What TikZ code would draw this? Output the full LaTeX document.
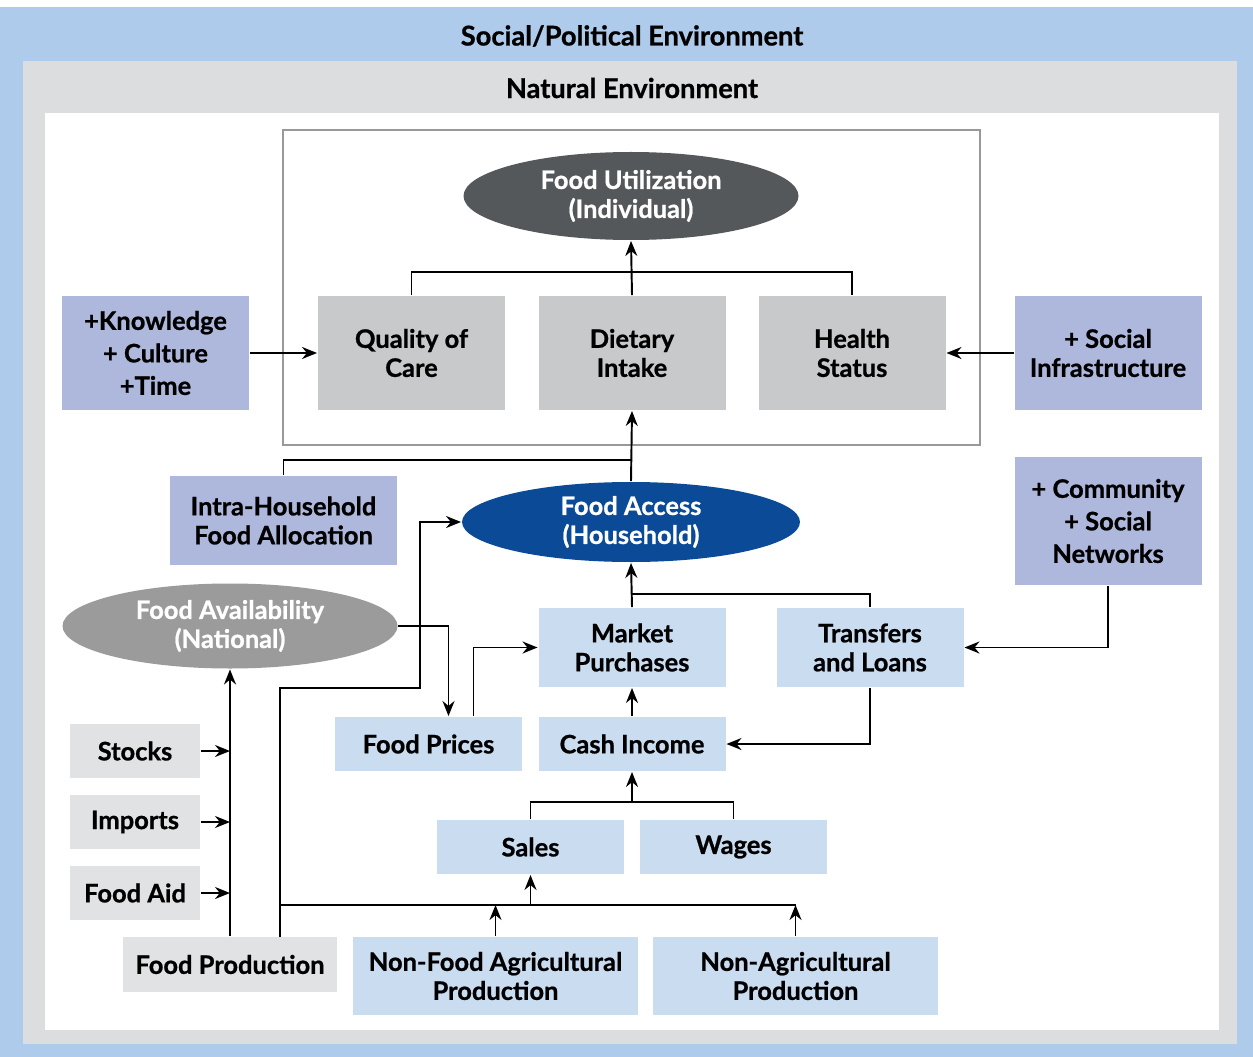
\documentclass[tikz,border=0pt]{standalone}
\usepackage{fontspec}
\setmainfont{Lato}[BoldFeatures={FakeBold=0.8}]
\usetikzlibrary{calc, shapes.geometric, arrows.meta}
\definecolor{SocialBlue}{RGB}{174,203,235}
\definecolor{NaturalGray}{RGB}{220,221,223}
\definecolor{FactorLavender}{RGB}{174,183,220}
\definecolor{UseGray}{RGB}{200,201,203}
\definecolor{SupplyGray}{RGB}{225,226,228}
\definecolor{AccessLight}{RGB}{201,220,240}
\definecolor{UtilDark}{RGB}{85,88,90}
\definecolor{AccessDark}{RGB}{10,74,151}
\definecolor{AvailGray}{RGB}{155,155,155}
\tikzset{
    base/.style={font=\fontsize{14.5}{16.5}\selectfont\bfseries, align=center, inner sep=0pt},
    tall/.style={font=\fontsize{14.5}{18.5}\selectfont\bfseries},
    boxsize/.style 2 args={minimum width=#1*0.02cm, minimum height=#2*0.02cm},
    factor/.style={base, fill=FactorLavender},
    usebox/.style={base, fill=UseGray},
    supply/.style={base, fill=SupplyGray},
    accbox/.style={base, fill=AccessLight},
    oval/.style={base, ellipse, text=white},
    heading/.style={base, font=\fontsize{15.5}{18}\selectfont\bfseries},
    arr/.style={-{Stealth[length=0.3cm, width=0.24cm]}},
}

\begin{document}
\begin{tikzpicture}[x=0.02cm, y=-0.02cm, line width=1.1pt]

% Marcos de los entornos.
\fill[white] (0,0) rectangle (1253,1057);
\fill[SocialBlue] (0,7) rectangle (1253,1057);
\fill[NaturalGray] (23,61) rectangle (1237,1044);
\fill[white] (45,113) rectangle (1219,1030);
\node[heading] (social) at (632,36) {Social/Political Environment};
\node[heading] (natural) at (632,88) {Natural Environment};

% Nivel individual.
\draw[gray!80, line width=0.8pt] (283,130) rectangle (980,445);
\node[oval, fill=UtilDark, boxsize={335}{88}] (futil) at (631,196) {Food Utilization\\(Individual)};
\node[usebox, boxsize={187}{114}] (qual) at (411.5,353) {Quality of\\Care};
\node[usebox, boxsize={187}{114}] (diet) at (632,353) {Dietary\\Intake};
\node[usebox, boxsize={187}{114}] (health) at (852,353) {Health\\Status};
\node[factor, tall, boxsize={187}{114}] (know) at (155.5,353) {+Knowledge\\+ Culture\\+Time};
\node[factor, boxsize={187}{114}] (sinfra) at (1108,353) {+ Social\\Infrastructure};

% Nivel del hogar.
\node[factor, boxsize={227}{89}] (intra) at (283.5,520.5) {Intra-Household\\Food Allocation};
\node[factor, tall, boxsize={187}{128}] (comm) at (1108,521) {+ Community\\+ Social\\Networks};
\node[oval, fill=AccessDark, boxsize={338}{80}] (faccess) at (631,522) {Food Access\\(Household)};
\node[accbox, boxsize={187}{79}] (market) at (632,647.5) {Market\\Purchases};
\node[accbox, boxsize={187}{79}] (transf) at (870,647.5) {Transfers\\and Loans};
\node[accbox, boxsize={187}{54}] (fprices) at (428.5,744) {Food Prices};
\node[accbox, boxsize={187}{54}] (cash) at (632,744) {Cash Income};
\node[accbox, boxsize={187}{54}] (sales) at (530.5,847) {Sales};
\node[accbox, boxsize={187}{54}] (wages) at (733.5,847) {Wages};

% Nivel nacional.
\node[oval, fill=AvailGray, boxsize={335}{85}] (favail) at (230,626) {Food Availability\\(National)};
\node[supply, boxsize={130}{54}] (stocks) at (135,751) {Stocks};
\node[supply, boxsize={130}{54}] (imports) at (135,822) {Imports};
\node[supply, boxsize={130}{54}] (aid) at (135,893) {Food Aid};
\node[supply, boxsize={214}{55}] (fprod) at (230,964.5) {Food Production};
\node[accbox, boxsize={285}{78}] (nonfood) at (495.5,976) {Non-Food Agricultural\\Production};
\node[accbox, boxsize={285}{78}] (nonag) at (795.5,976) {Non-Agricultural\\Production};

\coordinate (jhh) at (632,460);
\coordinate (fp2) at (280,937);
\coordinate (jprod) at (280,905);

% Conexiones del nivel individual.
\draw (qual.north) |- ($(diet.north)+(0,-23)$) -| (health.north);
\draw[arr] (diet.north) -- (futil.south);
\draw[arr] (know.east) -- (qual.west);
\draw[arr] (sinfra.west) -- (health.east);
\draw[arr] (faccess.north) -- (diet.south);
\draw (intra.north) |- (jhh);

% Conexiones del nivel del hogar.
\draw (transf.north) |- ($(market.north)+(0,-13)$);
\draw[arr] (market.north) -- (faccess.south);
\draw[arr] (comm.south) |- (transf.east);
\draw[arr] (transf.south) |- (cash.east);
\draw[arr] (cash.north) -- (market.south);
\draw[arr] ($(fprices.north)+(45,0)$) |- (market.west);
\draw[arr] (favail.east) -| ($(fprices.north)+(20,0)$);
\draw (sales.north) |- ($(cash.south)+(0,30)$) -| (wages.north);
\draw[arr] ($(cash.south)+(0,30)$) -- (cash.south);

% Conexiones del nivel nacional.
\draw[arr] (fprod.north) -- (favail.south);
\draw[arr] (stocks.east) -- (stocks.east -| fprod.north);
\draw[arr] (imports.east) -- (imports.east -| fprod.north);
\draw[arr] (aid.east) -- (aid.east -| fprod.north);
\draw[arr] (fp2) -- (280,688) -- (420,688) |- (faccess.west);
\draw (jprod) -- (nonag.north |- jprod);
\draw[arr] (nonfood.north) -- (nonfood.north |- jprod);
\draw[arr] (nonag.north) -- (nonag.north |- jprod);
\draw[arr] (sales.south |- jprod) -- (sales.south);

\end{tikzpicture}
\end{document}
